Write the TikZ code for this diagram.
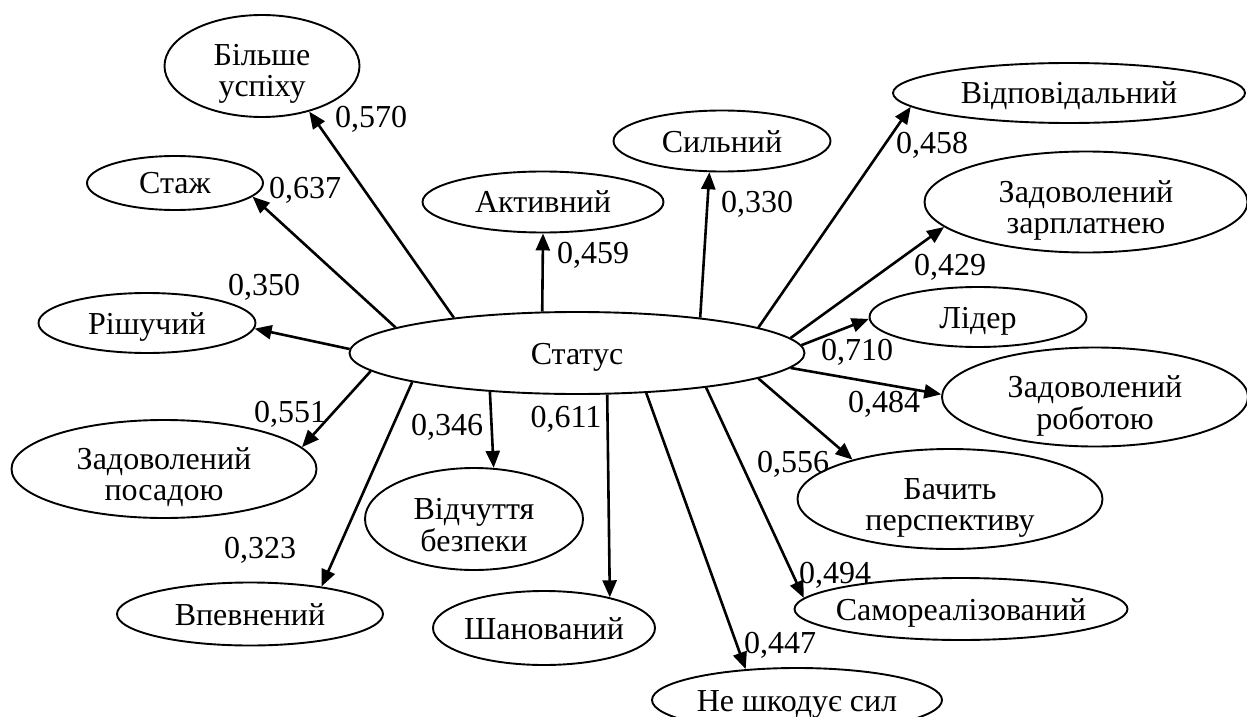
\documentclass[tikz,border=0pt]{standalone}
\usepackage{fontspec}
\setmainfont{Liberation Serif}
\usetikzlibrary{shapes.geometric,arrows.meta}
\newcommand{\one}[1]{\makebox[0pt]{\raisebox{-5.5pt}[0pt][0pt]{#1}}}
\newcommand{\two}[2]{\makebox[0pt]{\raisebox{0pt}[0pt][0pt]{\begin{tabular}[t]{@{}c@{}}#1\\#2\end{tabular}}}}
\begin{document}
\begin{tikzpicture}[x=0.5pt,y=-0.5pt,
  el/.style={draw, ellipse, line width=0.95pt, inner sep=0pt, font=\fontsize{16pt}{15.5pt}\selectfont},
  lab/.style={inner sep=0pt, font=\fontsize{16pt}{18pt}\selectfont},
  arr/.style={line width=1.3pt, -{Triangle[length=8.5pt,width=7pt]}}]
\useasboundingbox (0,0) rectangle (1247,717);
% nodes
\node[el, minimum width=227.5pt, minimum height=41pt] (status) at (577,353) {\one{Статус}};
\node[el, minimum width=97.5pt, minimum height=51pt] (bil) at (262,66) {\two{Більше}{успіху}};
\node[el, minimum width=88pt, minimum height=27pt] (stazh) at (175,183) {\one{Стаж}};
\node[el, minimum width=108.5pt, minimum height=30pt] (rish) at (147,323) {\one{Рішучий}};
\node[el, minimum width=152.5pt, minimum height=49pt] (posad) at (164,469) {\two{Задоволений}{посадою}};
\node[el, minimum width=133pt, minimum height=31.5pt] (vpev) at (250,614) {\one{Впевнений}};
\node[el, minimum width=109pt, minimum height=51pt] (vidch) at (474,519) {\two{Відчуття}{безпеки}};
\node[el, minimum width=111pt, minimum height=37pt] (shan) at (544,628) {\one{Шанований}};
\node[el, minimum width=145pt, minimum height=32pt] (neshk) at (797,700) {\one{Не шкодує сил}};
\node[el, minimum width=166.5pt, minimum height=31pt] (samo) at (961,609) {\one{Самореалізований}};
\node[el, minimum width=152.5pt, minimum height=50pt] (bach) at (950,499) {\two{Бачить}{перспективу}};
\node[el, minimum width=153pt, minimum height=49.5pt] (robot) at (1095,397) {\two{Задоволений}{роботою}};
\node[el, minimum width=108.5pt, minimum height=30pt] (lider) at (978,317) {\one{Лідер}};
\node[el, minimum width=161.5pt, minimum height=50.5pt] (zarp) at (1086,202) {\two{Задоволений}{зарплатнею}};
\node[el, minimum width=176pt, minimum height=30pt] (vidp) at (1069,93) {\one{Відповідальний}};
\node[el, minimum width=108.5pt, minimum height=30.5pt] (sil) at (722,141) {\one{Сильний}};
\node[el, minimum width=120.5pt, minimum height=30.5pt] (akt) at (543,202) {\one{Активний}};
% connectors
\draw[arr] (status.164.8) -- (bil.316.8);
\draw[arr] (status.172.8) -- (stazh.350.3);
\draw[arr] (status.179.2) -- (rish.357.9);
\draw[arr] (status.185.2) -- (posad.9.0);
\draw[arr] (status.190.1) -- (vpev.21.2);
\draw[arr] (status.204.3) -- (vidch.69.3);
\draw[arr] (status.306.5) -- (shan.25.8);
\draw[arr] (status.330.3) -- (neshk.149.8);
\draw[arr] (status.345) -- (samo.176.0);
\draw[arr] (status.352.1) -- (bach.158.3);
\draw[arr] (status.356.9) -- (robot.179.2);
\draw[arr] (status.2.85) -- (lider.181.6);
\draw[arr] (status.4.9) -- (zarp.190.3);
\draw[arr] (status.8.45) -- (vidp.185.1);
\draw[arr] (status.16.5) -- (sil.248.8);
\draw[arr] (status.130.0) -- (akt.270);
% labels
\node[lab] (l1) at (371,119) {0,570};
\node[lab] (l2) at (305,190) {0,637};
\node[lab] (l3) at (264,287) {0,350};
\node[lab] (l4) at (290,414) {0,551};
\node[lab] (l5) at (260,550) {0,323};
\node[lab] (l6) at (447,427) {0,346};
\node[lab] (l7) at (566,419) {0,611};
\node[lab] (l8) at (780,645) {0,447};
\node[lab] (l9) at (835,575) {0,494};
\node[lab] (l10) at (793,464) {0,556};
\node[lab] (l11) at (884,404) {0,484};
\node[lab] (l12) at (857,352) {0,710};
\node[lab] (l13) at (950,267) {0,429};
\node[lab] (l14) at (932,145) {0,458};
\node[lab] (l15) at (757,204) {0,330};
\node[lab] (l16) at (593,255) {0,459};
\end{tikzpicture}
\end{document}
